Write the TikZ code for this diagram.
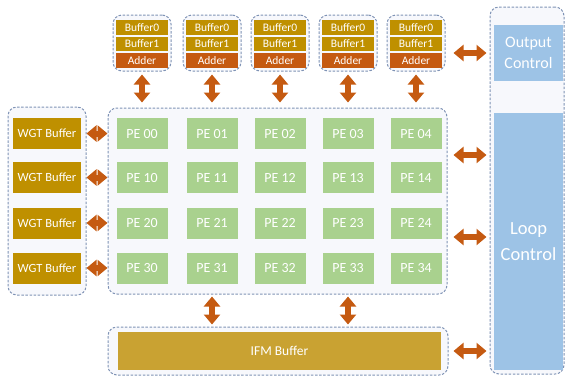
\documentclass[tikz,border=0pt]{standalone}
\usepackage{fontspec}
\setmainfont{Carlito}
\usetikzlibrary{arrows.meta}
\definecolor{bufgold}{HTML}{BF9000}
\definecolor{ifmgold}{HTML}{C9A232}
\definecolor{addorange}{HTML}{C55A11}
\definecolor{pegreen}{HTML}{A9D18E}
\definecolor{ctrlblue}{HTML}{9DC3E6}
\definecolor{frameline}{HTML}{7F93B5}
\definecolor{framefill}{HTML}{F7F8FC}
\begin{document}
\begin{tikzpicture}[x=1pt,y=-1pt,
  frame/.style={draw=frameline, fill=framefill, line width=1pt,
    dash pattern=on 2.5pt off 1.6pt, rounded corners=9pt},
  cell/.style={text=white, inner sep=0pt, outer sep=0pt},
  bufcell/.style={cell, fill=bufgold, minimum width=52pt, font=\fontsize{11.5}{12}\selectfont},
  addcell/.style={cell, fill=addorange, minimum width=52pt, minimum height=15pt, font=\fontsize{11.5}{12}\selectfont},
  pecell/.style={cell, fill=pegreen, minimum width=51pt, minimum height=31pt, font=\fontsize{14}{15}\selectfont},
  wgtcell/.style={cell, fill=bufgold, minimum width=68pt, minimum height=31pt, font=\fontsize{12.5}{13}\selectfont},
  ctrlcell/.style={cell, fill=ctrlblue, minimum width=69pt, align=center},
  link/.style={draw=addorange, line width=6pt,
    {Triangle[width=16pt,length=10pt]}-{Triangle[width=16pt,length=10pt]}}
]
\useasboundingbox (0,0) rectangle (565,376);

% output buffers with adders, one group per PE column
\foreach \i/\x in {0/142,1/212,2/280,3/348,4/416}{
  \node[frame, minimum width=58pt, minimum height=56pt] (grp\i) at (\x,43) {};
  \node[bufcell, minimum height=15pt] (bz\i) at (\x,27.5) {Buffer0};
  \node[bufcell, minimum height=14pt] (bo\i) at (\x,44) {Buffer1};
  \node[addcell] (add\i) at (\x,60.5) {Adder};
}

% weight buffers
\node[frame, minimum width=78pt, minimum height=188pt] (wgtgrp) at (47,201) {};
% PE array
\node[frame, minimum width=339pt, minimum height=186pt] (pegrp) at (277.5,201) {};
% input feature map buffer
\node[frame, minimum width=340pt, minimum height=48pt] (ifmgrp) at (278,351) {};
\node[cell, fill=ifmgold, minimum width=323pt, minimum height=38pt,
  font=\fontsize{13.5}{14}\selectfont] (ifm) at (279.5,351) {IFM Buffer};
% control column
\node[frame, minimum width=74pt, minimum height=367pt] (ctrlgrp) at (527,190.5) {};
\node[ctrlcell, minimum height=56pt, font=\fontsize{16}{21}\selectfont] (outctrl) at (528.5,53) {Output\\Control};
\node[ctrlcell, minimum height=257pt, font=\fontsize{18.5}{26}\selectfont] (loopctrl) at (528.5,241.5) {Loop\\Control};

\foreach \r/\y in {0/133.5,1/177.5,2/223,3/268}{
  \node[wgtcell] (wgt\r) at (47,\y) {WGT Buffer};
  \foreach \c/\x in {0/142,1/212,2/280,3/348,4/416}{
    \node[pecell] (pe\r\c) at (\x,\y) {PE \r\c};
  }
  \draw[link] (wgtgrp.east |- wgt\r) -- (pegrp.west |- wgt\r);
}

% adder groups to PE array
\foreach \i in {0,...,4}{
  \draw[link, shorten <=3pt, shorten >=5pt] (grp\i.south) -- (grp\i.south |- pegrp.north);
}

% PE array to IFM buffer
\draw[link, shorten <=2pt, shorten >=2pt] (pegrp.south -| pe31) -- (ifmgrp.north -| pe31);
\draw[link, shorten <=2pt, shorten >=2pt] (pegrp.south -| pe33) -- (ifmgrp.north -| pe33);

% links to the control column
\coordinate (lk1) at (470,155);
\coordinate (lk2) at (470,237);
\draw[link, shorten <=8pt, shorten >=3pt] (grp4.east |- outctrl) -- (ctrlgrp.west |- outctrl);
\draw[link, shorten <=6pt, shorten >=3pt] (pegrp.east |- lk1) -- (ctrlgrp.west |- lk1);
\draw[link, shorten <=6pt, shorten >=3pt] (pegrp.east |- lk2) -- (ctrlgrp.west |- lk2);
\draw[link, shorten <=5pt, shorten >=3pt] (ifmgrp.east |- ifm) -- (ctrlgrp.west |- ifm);
\end{tikzpicture}
\end{document}
